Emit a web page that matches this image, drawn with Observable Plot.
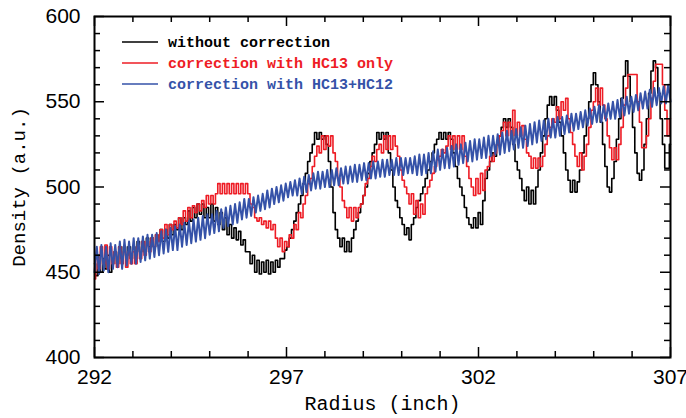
<!DOCTYPE html>
<html>
<head>
<meta charset="utf-8">
<script src="https://cdn.jsdelivr.net/npm/d3@7"></script>
<script src="https://cdn.jsdelivr.net/npm/@observablehq/plot@0.6"></script>
<style>
  body { margin: 0; background: #fff; }
  #chart { width: 686px; height: 418px; }
</style>
</head>
<body>
<div id="chart"></div>
<script>
// Density profiles sampled every 0.06 inch from 292 to 307 inch
const radiusStart = 292;
const radiusStep = 0.06;

// without correction
const blackY = [
  455,448,460,450,458,452,460,450,458,462,
  455,465,458,465,460,465,458,465,460,468,
  462,468,462,470,465,470,465,472,468,475,
  468,475,470,478,472,478,475,482,475,482,
  478,486,480,488,482,490,484,490,482,488,
  482,490,480,488,478,485,475,482,472,478,
  470,476,469,474,466,469,462,462,455,460,
  450,457,449,456,450,457,449,456,450,457,
  453,458,458,463,465,470,475,480,485,490,
  495,502,508,515,520,525,532,528,532,528,
  530,525,515,500,485,475,470,465,470,462,
  468,462,470,475,480,485,490,495,500,508,
  515,520,525,532,528,532,528,532,520,510,
  500,492,488,482,478,472,476,469,478,482,
  488,492,496,500,505,510,515,520,525,528,
  532,528,532,528,532,528,520,512,505,500,
  495,488,482,478,476,482,476,485,478,492,
  505,510,515,520,518,525,530,535,540,535,
  540,535,525,515,510,505,498,492,500,490,
  498,490,500,510,520,530,540,548,553,548,
  553,545,538,530,520,510,504,497,504,497,
  503,510,520,530,540,550,560,567,560,550,
  538,525,512,500,497,505,515,528,540,552,
  565,574,565,550,535,520,508,504,510,525,
  540,555,568,574,570,555,540,525,511,511,
  525
];

// correction with HC13 only
const redY = [
  446,458,452,465,455,466,452,465,455,462,
  453,465,455,462,453,462,455,462,455,465,
  458,468,460,468,462,470,465,472,468,475,
  470,478,472,478,475,480,476,482,478,486,
  480,488,482,489,485,490,486,492,488,495,
  490,495,490,496,502,496,502,496,502,496,
  502,496,502,496,502,496,502,496,490,488,
  482,480,482,478,480,476,480,475,478,470,
  465,470,462,468,465,472,470,478,475,485,
  482,490,495,502,505,512,518,524,520,530,
  522,530,524,530,520,515,505,500,492,488,
  482,488,480,488,482,488,490,495,502,505,
  512,518,515,522,525,520,530,522,530,522,
  530,524,518,510,504,500,496,490,496,484,
  492,482,490,484,496,500,504,508,512,516,
  518,522,520,524,530,522,530,522,530,522,
  530,518,512,505,500,495,505,496,508,498,
  510,512,518,515,520,525,530,533,538,530,
  538,530,545,530,538,530,536,528,520,518,
  511,517,511,517,512,518,525,530,535,540,
  538,547,540,550,545,552,540,532,525,518,
  512,520,510,518,525,535,545,550,558,548,
  558,548,540,530,523,516,523,516,525,535,
  548,558,566,566,566,566,550,538,523,523,
  530,540,552,562,572,572,572,560,545,530,
  540
];

// correction with HC13+HC12
const blueY = [
  450,465,449,466,451,465,450,467,452,466,
  453,468,452,469,454,468,455,470,455,470,
  456,471,457,472,458,472,459,473,460,474,
  461,475,462,476,463,477,463,478,465,479,
  466,480,467,481,468,482,469,483,470,484,
  472,484,473,486,474,487,476,488,477,489,
  478,490,479,491,481,493,482,493,483,494,
  485,495,486,496,487,498,488,499,490,500,
  491,501,492,502,494,503,495,504,495,505,
  496,506,497,507,498,508,499,509,499,509,
  500,510,500,510,501,511,501,511,502,512,
  502,512,503,513,503,513,504,514,504,514,
  505,515,505,515,506,516,506,516,507,516,
  507,517,507,517,507,517,508,517,508,518,
  507,519,507,519,508,520,508,521,509,522,
  510,522,511,523,511,524,512,525,513,525,
  514,526,515,527,515,528,516,528,517,529,
  517,530,518,530,519,531,519,532,520,533,
  521,533,522,534,523,535,523,536,524,537,
  525,538,526,539,527,539,528,540,529,540,
  529,541,530,541,531,542,532,543,533,543,
  534,544,535,545,536,546,537,547,538,548,
  538,548,539,549,540,550,540,551,541,552,
  542,553,543,553,544,554,545,555,546,556,
  546,557,547,558,548,558,549,559,549,560,
  550
];

const seriesNames = ["without correction", "correction with HC13 only", "correction with HC13+HC12"];
const seriesColors = ["#000000", "#ee1c25", "#3552a8"];

const xMajor = [292, 297, 302, 307];
const xMinor = [293, 294, 295, 296, 298, 299, 300, 301, 303, 304, 305, 306];
const yMajor = [400, 450, 500, 550, 600];
const yMinor = [410, 420, 430, 440, 460, 470, 480, 490, 510, 520, 530, 540, 560, 570, 580, 590];

const W = 686, H = 418;
const M = {top: 16, right: 16, bottom: 61, left: 94};
const innerW = W - M.left - M.right;
const innerH = H - M.top - M.bottom;
const majorLen = 10, minorLen = 6;

const radiusOf = (d, i) => radiusStart + i * radiusStep;
const tickStyle = {stroke: "#000", strokeWidth: 1.5};
const monoFont = "'Liberation Mono', 'DejaVu Sans Mono', monospace";

// Legend drawn inside the top-left corner of the frame
function legend(index, scales, values, dims) {
  const g = d3.create("svg:g");
  seriesNames.forEach((name, k) => {
    const y = dims.marginTop + 26 + k * 21;
    g.append("line")
      .attr("x1", dims.marginLeft + 28).attr("x2", dims.marginLeft + 64)
      .attr("y1", y).attr("y2", y)
      .attr("stroke", seriesColors[k]).attr("stroke-width", 1.5);
    g.append("text")
      .attr("x", dims.marginLeft + 74).attr("y", y)
      .attr("dy", "0.35em")
      .attr("text-anchor", "start")
      .attr("fill", seriesColors[k])
      .attr("font-family", monoFont)
      .attr("font-weight", "bold")
      .attr("font-size", 15)
      .text(name);
  });
  return g.node();
}

const chart = Plot.plot({
  width: W, height: H,
  marginTop: M.top, marginRight: M.right, marginBottom: M.bottom, marginLeft: M.left,
  x: {domain: [292, 307]},
  y: {domain: [400, 600]},
  style: {background: "#fff", fontFamily: "'Liberation Sans', Arial, sans-serif", color: "#000"},
  marks: [
    Plot.line(blackY, {x: radiusOf, y: d => d, stroke: seriesColors[0], strokeWidth: 1.6, curve: "step"}),
    Plot.line(redY, {x: radiusOf, y: d => d, stroke: seriesColors[1], strokeWidth: 1.6, curve: "step"}),
    Plot.line(blueY, {x: radiusOf, y: d => d, stroke: seriesColors[2], strokeWidth: 2}),
    Plot.frame({stroke: "#000", strokeWidth: 2}),
    // inward ticks on all four sides
    Plot.tickX(xMajor, {x: d => d, insetTop: innerH - majorLen, ...tickStyle}),
    Plot.tickX(xMajor, {x: d => d, insetBottom: innerH - majorLen, ...tickStyle}),
    Plot.tickX(xMinor, {x: d => d, insetTop: innerH - minorLen, ...tickStyle}),
    Plot.tickX(xMinor, {x: d => d, insetBottom: innerH - minorLen, ...tickStyle}),
    Plot.tickY(yMajor, {y: d => d, insetRight: innerW - majorLen, ...tickStyle}),
    Plot.tickY(yMajor, {y: d => d, insetLeft: innerW - majorLen, ...tickStyle}),
    Plot.tickY(yMinor, {y: d => d, insetRight: innerW - minorLen, ...tickStyle}),
    Plot.tickY(yMinor, {y: d => d, insetLeft: innerW - minorLen, ...tickStyle}),
    Plot.axisX({ticks: xMajor, tickSize: 0, tickPadding: 12, fontSize: 21, tickFormat: d => String(d), label: null}),
    Plot.axisY({ticks: yMajor, tickSize: 0, tickPadding: 14, fontSize: 21, tickFormat: d => String(d), label: null}),
    Plot.text(["Radius (inch)"], {frameAnchor: "bottom", dy: 52, fontSize: 20, fontFamily: monoFont, fill: "#000"}),
    Plot.text(["Density (a.u.)"], {frameAnchor: "left", dx: -76, rotate: -90, textAnchor: "middle", fontSize: 19, fontFamily: monoFont, fill: "#000"}),
    legend
  ]
});

document.getElementById("chart").appendChild(chart);
</script>
</body>
</html>
